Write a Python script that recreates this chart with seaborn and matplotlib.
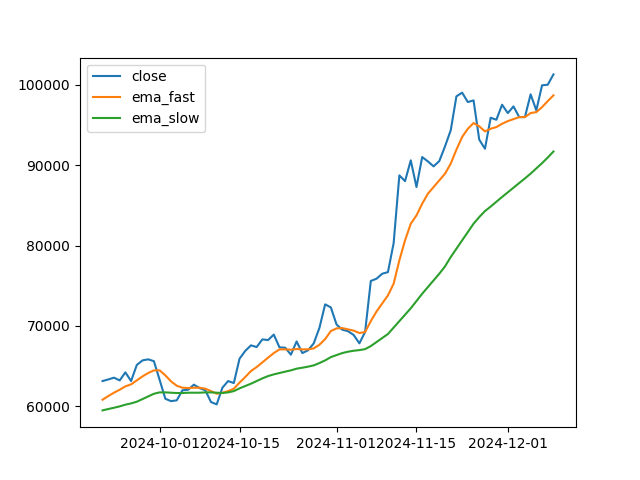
import matplotlib
matplotlib.use("Agg")
import matplotlib.pyplot as plt
import pandas as pd
import seaborn as sns

# --- Data ---
START_DATE = "2024-09-21"

close = [
    63150, 63350, 63570, 63230, 64230, 63150, 65150, 65720, 65850, 65620,
    63300, 60950, 60650, 60750, 62000, 62070, 62700, 62280, 62000, 60540,
    60250, 62320, 63150, 62900, 65930, 66900, 67590, 67380, 68330, 68250,
    68930, 67340, 67300, 66430, 68080, 66630, 66970, 67840, 69770, 72690,
    72310, 70180, 69540, 69350, 68880, 67840, 69250, 75600, 75880, 76500,
    76700, 80300, 88730, 88020, 90600, 87280, 91010, 90470, 89850, 90510,
    92340, 94330, 98560, 99020, 97850, 98060, 93170, 92050, 95900, 95650,
    97520, 96480, 97310, 95980, 95980, 98810, 96820, 99930, 100010, 101290,
]

ema_fast = [
    60830, 61280, 61700, 62070, 62490, 62740, 63230, 63730, 64150, 64480,
    64480, 63860, 63110, 62570, 62320, 62280, 62320, 62320, 62200, 61900,
    61570, 61700, 61900, 62200, 62950, 63650, 64390, 64890, 65470, 66060,
    66630, 67090, 67090, 67050, 67130, 67090, 67090, 67210, 67670, 68370,
    69370, 69700, 69740, 69580, 69420, 69120, 69250, 70600, 71800, 72800,
    73800, 75260, 78160, 80650, 82720, 83750, 85210, 86450, 87280, 88110,
    88940, 90190, 91930, 93500, 94530, 95240, 94830, 94200, 94530, 94740,
    95150, 95480, 95730, 95980, 95980, 96480, 96600, 97220, 97970, 98680,
]

ema_slow = [
    59500, 59670, 59830, 60000, 60210, 60370, 60580, 60910, 61240, 61570,
    61740, 61740, 61700, 61660, 61660, 61700, 61700, 61700, 61740, 61740,
    61700, 61660, 61740, 61900, 62240, 62530, 62820, 63150, 63480, 63770,
    63980, 64150, 64320, 64480, 64690, 64810, 64940, 65100, 65390, 65720,
    66130, 66380, 66630, 66800, 66920, 67000, 67120, 67500, 68000, 68500,
    69000, 69800, 70600, 71400, 72200, 73100, 74010, 74840, 75670, 76500,
    77410, 78570, 79610, 80650, 81680, 82720, 83550, 84290, 84850, 85450,
    86050, 86620, 87200, 87780, 88350, 88950, 89600, 90250, 90950, 91700,
]

SERIES = {"close": close, "ema_fast": ema_fast, "ema_slow": ema_slow}
COLORS = {"close": "#1f77b4", "ema_fast": "#ff7f0e", "ema_slow": "#2ca02c"}


def main():
    dates = pd.date_range(START_DATE, periods=len(close), freq="D")
    df = pd.DataFrame({"date": dates, **SERIES})

    fig, ax = plt.subplots(figsize=(6.4, 4.8), dpi=100)

    for name in SERIES:
        sns.lineplot(data=df, x="date", y=name, label=name,
                     color=COLORS[name], linewidth=1.5, ax=ax)

    ax.set_xlabel("")
    ax.set_ylabel("")
    ax.legend(loc="upper left")

    fig.savefig("out.png", dpi=100)
    plt.close(fig)


if __name__ == "__main__":
    main()
